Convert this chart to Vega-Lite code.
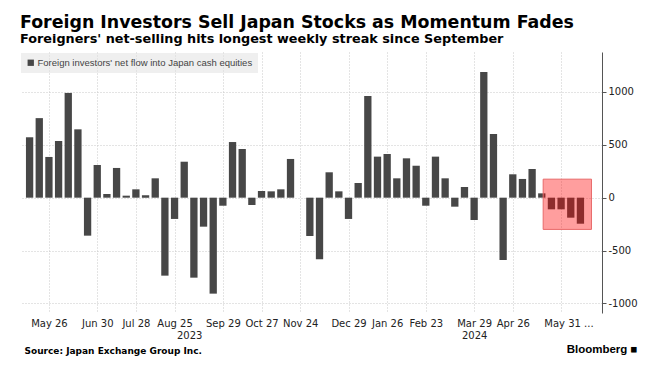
{
  "$schema": "https://vega.github.io/schema/vega-lite/v6.json",
  "width": 582,
  "height": 261,
  "autosize": {"type": "none"},
  "padding": {"left": 20, "top": 52, "right": 57, "bottom": 53},
  "background": "white",
  "title": {
    "text": "Foreign Investors Sell Japan Stocks as Momentum Fades",
    "subtitle": "Foreigners' net-selling hits longest weekly streak since September",
    "anchor": "start",
    "frame": "group",
    "font": "DejaVu Sans",
    "fontSize": 17.4,
    "fontWeight": "bold",
    "color": "#000000",
    "subtitleFont": "DejaVu Sans",
    "subtitleFontSize": 12.8,
    "subtitleFontWeight": "bold",
    "subtitleColor": "#000000",
    "subtitlePadding": 2,
    "offset": 6
  },
  "config": {
    "view": {"stroke": null}
  },
  "layer": [
    {
      "data": {
        "values": [
          {"date": "2023-05-12", "v": 571},
          {"date": "2023-05-19", "v": 752},
          {"date": "2023-05-26", "v": 385},
          {"date": "2023-06-02", "v": 536},
          {"date": "2023-06-09", "v": 990},
          {"date": "2023-06-16", "v": 646},
          {"date": "2023-06-23", "v": -359},
          {"date": "2023-06-30", "v": 309},
          {"date": "2023-07-07", "v": 35},
          {"date": "2023-07-14", "v": 281},
          {"date": "2023-07-21", "v": 19},
          {"date": "2023-07-28", "v": 79},
          {"date": "2023-08-04", "v": 22},
          {"date": "2023-08-11", "v": 183},
          {"date": "2023-08-18", "v": -737},
          {"date": "2023-08-25", "v": -201},
          {"date": "2023-09-01", "v": 340},
          {"date": "2023-09-08", "v": -756},
          {"date": "2023-09-15", "v": -274},
          {"date": "2023-09-22", "v": -907},
          {"date": "2023-09-29", "v": -76},
          {"date": "2023-10-06", "v": 526},
          {"date": "2023-10-13", "v": 460},
          {"date": "2023-10-20", "v": -69},
          {"date": "2023-10-27", "v": 63},
          {"date": "2023-11-03", "v": 60},
          {"date": "2023-11-10", "v": 79},
          {"date": "2023-11-17", "v": 366},
          {"date": "2023-11-24", "v": 0},
          {"date": "2023-12-01", "v": -362},
          {"date": "2023-12-08", "v": -582},
          {"date": "2023-12-15", "v": 240},
          {"date": "2023-12-22", "v": 60},
          {"date": "2023-12-29", "v": -201},
          {"date": "2024-01-05", "v": 139},
          {"date": "2024-01-12", "v": 961},
          {"date": "2024-01-19", "v": 388},
          {"date": "2024-01-26", "v": 413},
          {"date": "2024-02-02", "v": 183},
          {"date": "2024-02-09", "v": 372},
          {"date": "2024-02-16", "v": 302},
          {"date": "2024-02-23", "v": -76},
          {"date": "2024-03-01", "v": 388},
          {"date": "2024-03-08", "v": 183},
          {"date": "2024-03-15", "v": -85},
          {"date": "2024-03-22", "v": 101},
          {"date": "2024-03-29", "v": -211},
          {"date": "2024-04-05", "v": 1188},
          {"date": "2024-04-12", "v": 602},
          {"date": "2024-04-19", "v": -589},
          {"date": "2024-04-26", "v": 221},
          {"date": "2024-05-03", "v": 177},
          {"date": "2024-05-10", "v": 271},
          {"date": "2024-05-17", "v": 41},
          {"date": "2024-05-24", "v": -110},
          {"date": "2024-05-31", "v": -110},
          {"date": "2024-06-07", "v": -189},
          {"date": "2024-06-14", "v": -246}
        ]
      },
      "mark": {"type": "bar", "size": 7.3, "color": "#474747"},
      "encoding": {
        "x": {
          "field": "date",
          "type": "temporal",
          "scale": {"type": "utc", "domain": ["2023-05-08T16:00:00Z", "2024-06-26T00:00:00Z"], "nice": false},
          "axis": {
            "title": "Source: Japan Exchange Group Inc.",
            "titleFont": "DejaVu Sans",
            "titleFontSize": 9,
            "titleFontWeight": "bold",
            "titleColor": "#000000",
            "titleAnchor": "start",
            "titleAlign": "left",
            "titleBaseline": "alphabetic",
            "titleX": 4,
            "titleY": 40,
            "values": [
              {"year": 2023, "month": 5, "date": 26, "utc": true},
              {"year": 2023, "month": 6, "date": 30, "utc": true},
              {"year": 2023, "month": 7, "date": 28, "utc": true},
              {"year": 2023, "month": 8, "date": 25, "utc": true},
              {"year": 2023, "month": 9, "date": 29, "utc": true},
              {"year": 2023, "month": 10, "date": 27, "utc": true},
              {"year": 2023, "month": 11, "date": 24, "utc": true},
              {"year": 2023, "month": 12, "date": 29, "utc": true},
              {"year": 2024, "month": 1, "date": 26, "utc": true},
              {"year": 2024, "month": 2, "date": 23, "utc": true},
              {"year": 2024, "month": 3, "date": 29, "utc": true},
              {"year": 2024, "month": 4, "date": 26, "utc": true},
              {"year": 2024, "month": 5, "date": 31, "utc": true}
            ],
            "labelExpr": "utcFormat(datum.value, '%Y%m%d') == '20230825' ? ['Aug 25', '\u2800\u2800\u2800\u28002023'] : utcFormat(datum.value, '%Y%m%d') == '20240329' ? ['Mar 29', '2024'] : utcFormat(datum.value, '%Y%m%d') == '20240531' ? '\u2800\u2800May 31 ...' : utcFormat(datum.value, '%b %d')",
            "labelFont": "DejaVu Sans",
            "labelFontSize": 10,
            "labelColor": "#222222",
            "labelLineHeight": 12,
            "labelPadding": 5,
            "labelOverlap": false,
            "labelFlush": false,
            "domain": false,
            "ticks": false,
            "grid": true,
            "gridColor": "#c8c8c8",
            "gridDash": [1, 2],
            "gridWidth": 1
          }
        },
        "y": {
          "field": "v",
          "type": "quantitative",
          "scale": {"domain": [-1090, 1377], "nice": false, "zero": false},
          "axis": {
            "orient": "right",
            "values": [-1000, -500, 0, 500, 1000],
            "labelExpr": "'' + datum.value",
            "labelFont": "DejaVu Sans",
            "labelFontSize": 10,
            "labelColor": "#222222",
            "labelPadding": 2,
            "tickSize": 4,
            "tickColor": "#555555",
            "domainColor": "#555555",
            "grid": true,
            "gridColor": "#c8c8c8",
            "gridDash": [1, 2],
            "title": "Bloomberg \u25a0",
            "titleFont": "Liberation Sans",
            "titleFontSize": 11.5,
            "titleFontWeight": "bold",
            "titleColor": "#000000",
            "titleAngle": 0,
            "titleAlign": "right",
            "titleBaseline": "alphabetic",
            "titleX": 35,
            "titleY": 300
          }
        },
        "color": {
          "datum": "Foreign investors' net flow into Japan cash equities",
          "type": "nominal",
          "scale": {"range": ["#474747"]},
          "legend": {
            "orient": "top-left",
            "offset": 1,
            "title": null,
            "fillColor": "rgba(225,225,225,0.55)",
            "padding": 5,
            "symbolType": "square",
            "symbolSize": 40,
            "symbolStrokeWidth": 0,
            "labelFont": "Liberation Sans",
            "labelFontSize": 9.5,
            "labelColor": "#444444",
            "labelOffset": 2,
            "labelLimit": 400
          }
        }
      }
    },
    {
      "data": {
        "values": [
          {"x1": "2024-05-18", "x2": "2024-06-22", "y1": 175, "y2": -300}
        ]
      },
      "mark": {"type": "rect", "fill": "#ff0000", "fillOpacity": 0.38, "stroke": "#e86a6a", "strokeWidth": 1},
      "encoding": {
        "x": {"field": "x1", "type": "temporal"},
        "x2": {"field": "x2"},
        "y": {"field": "y1", "type": "quantitative"},
        "y2": {"field": "y2"}
      }
    }
  ]
}
